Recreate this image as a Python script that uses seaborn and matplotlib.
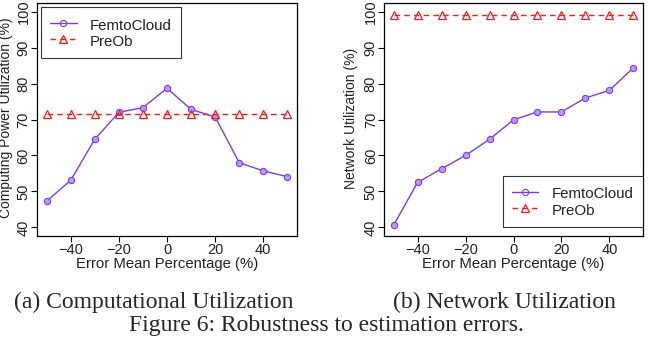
import matplotlib
matplotlib.use("Agg")
import matplotlib.pyplot as plt
import seaborn as sns
import pandas as pd

# error mean percentage (x axis)
error_pct = [-50, -40, -30, -20, -10, 0, 10, 20, 30, 40, 50]

# (a) computing power utilization (%)
femto_comp = [47.3, 53.1, 64.5, 72.0, 73.3, 78.7, 72.8, 70.7, 58.0, 55.7, 54.1]
preob_comp = [71.4] * 11

# (b) network utilization (%)
femto_net = [40.6, 52.5, 56.3, 60.0, 64.5, 69.9, 72.1, 72.1, 76.0, 78.1, 84.4]
preob_net = [99.0] * 11

x_ticks = [-40, -20, 0, 20, 40]
y_ticks = [40, 50, 60, 70, 80, 90, 100]

purple = "#7B3AF5"
red = "#FF1A1A"

sns.set_style("ticks")
plt.rcParams["font.family"] = ["Liberation Sans", "DejaVu Sans"]

W, H = 657, 341
fig = plt.figure(figsize=(W / 100, H / 100), dpi=100)


def box(x0, y0, x1, y1):
    return [x0 / W, 1 - y1 / H, (x1 - x0) / W, (y1 - y0) / H]


def panel(ax, femto, preob, legend_loc, anchor):
    df = pd.DataFrame({"x": error_pct * 2,
                       "y": femto + preob,
                       "method": ["FemtoCloud"] * 11 + ["PreOb"] * 11})
    sns.lineplot(data=df[df.method == "FemtoCloud"], x="x", y="y", ax=ax,
                 color=purple, lw=1.0, marker="o", markersize=4.5,
                 markerfacecolor="#B79BFA", markeredgecolor=purple,
                 markeredgewidth=0.8, label="FemtoCloud")
    sns.lineplot(data=df[df.method == "PreOb"], x="x", y="y", ax=ax,
                 color=red, lw=1.0, linestyle=(0, (4, 3)), marker="^",
                 markersize=5.5, markerfacecolor="none", markeredgecolor=red,
                 markeredgewidth=0.9, label="PreOb")
    ax.set_xlim(-54, 54)
    ax.set_ylim(37.6, 102.4)
    ax.set_xticks(x_ticks)
    ax.set_xticklabels(["\u221240", "\u221220", "0", "20", "40"])
    ax.set_yticks(y_ticks)
    ax.set_yticklabels([str(v) for v in y_ticks], rotation=90, va="center")
    ax.tick_params(direction="out", length=4, width=0.8, labelsize=10.5,
                   color="black", labelcolor="#222222")
    ax.tick_params(axis="x", pad=1)
    ax.tick_params(axis="y", pad=0.5)
    ax.set_xlabel("Error Mean Percentage (%)", fontsize=10.7, color="#222222",
                  labelpad=0)
    ax.set_ylabel("")
    for s in ax.spines.values():
        s.set_color("black")
        s.set_linewidth(0.9)
    leg = ax.legend(loc=legend_loc, bbox_to_anchor=anchor, fontsize=10.8,
                    frameon=True, fancybox=False, handlelength=1.75,
                    handleheight=1.3, handletextpad=0.9, borderpad=0.62,
                    labelspacing=0.0, borderaxespad=0)
    leg.get_frame().set_edgecolor("black")
    leg.get_frame().set_linewidth(0.8)
    for t in leg.get_texts():
        t.set_color("#222222")
    # legend shows open symbols
    for h in leg.legend_handles:
        h.set_markerfacecolor("none")


ax1 = fig.add_axes(box(37, 3, 297, 236))
panel(ax1, femto_comp, preob_comp, "upper left", (4 / 260, 1 - 4 / 233))
ax2 = fig.add_axes(box(384, 3, 643, 236))
panel(ax2, femto_net, preob_net, "lower right", (1.0, 9 / 233))

fig.text(6 / W, 1 - 118 / H, "Computing Power Utilization (%)", rotation=90,
         ha="center", va="center", fontsize=10, color="#222222")
fig.text(351 / W, 1 - 118 / H, "Network Utilization (%)", rotation=90,
         ha="center", va="center", fontsize=10, color="#222222")

serif = ["Liberation Serif", "DejaVu Serif"]
fig.text(154 / W, 1 - 302 / H, "(a) Computational Utilization",
         ha="center", va="center", fontsize=17, family=serif)
fig.text(504 / W, 1 - 302 / H, "(b) Network Utilization",
         ha="center", va="center", fontsize=17, family=serif)
fig.text(326 / W, 1 - 326 / H, "Figure 6: Robustness to estimation errors.",
         ha="center", va="center", fontsize=17, family=serif)

fig.savefig("out.png", dpi=100)
